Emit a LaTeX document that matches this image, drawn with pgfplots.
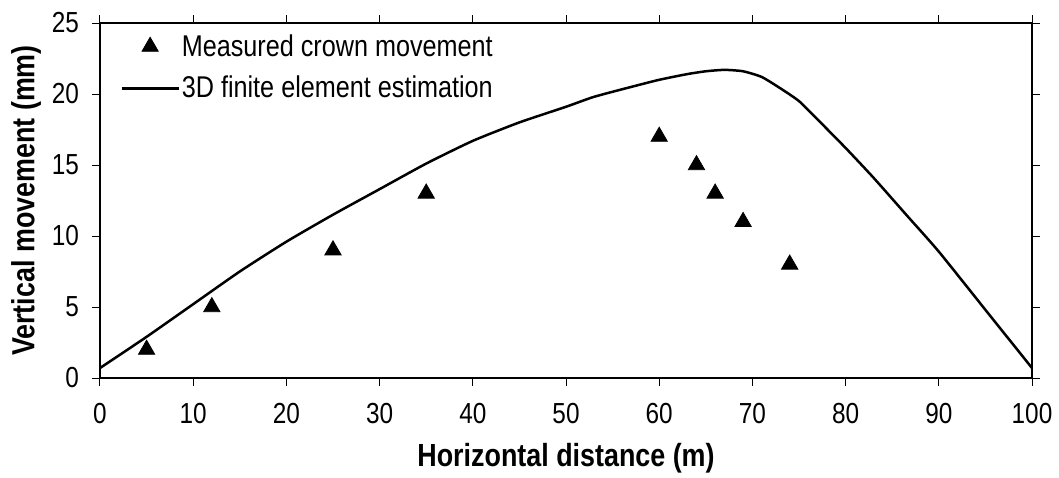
\documentclass[border=0pt]{standalone}
\usepackage{fontspec}
\setmainfont{Liberation Sans}[FakeStretch=0.84]
\usepackage{pgfplots}
\pgfplotsset{compat=1.18}
\pgfplotsset{
    marklegend/.style={legend image code/.code={\draw[##1] plot[mark=triangle*] coordinates {(0.5cm,0cm)};}},
    linelegend/.style={legend image code/.code={\draw[##1] (0cm,0cm) -- (1cm,0cm);}},
}

\begin{document}
\begin{tikzpicture}
\begin{axis}[
    scale only axis,
    width=466pt,
    height=177.5pt,
    xmin=0, xmax=100,
    ymin=0, ymax=25,
    xtick={0,10,...,100},
    ytick={0,5,...,25},
    tick align=outside,
    major tick length=4pt,
    tick style={black, line width=0.5pt},
    axis line style={line width=0.6pt},
    tick label style={font=\fontsize{14.5}{16}\selectfont},
    /pgf/number format/assume math mode=true,
    xticklabel style={yshift=-5pt},
    yticklabel style={xshift=-3pt},
    xlabel={\textbf{Horizontal distance (m)}},
    ylabel={\textbf{Vertical movement (mm)}},
    label style={font=\fontsize{16}{18}\selectfont},
    xlabel style={yshift=-3pt},
    ylabel style={yshift=-1.5pt},
    legend cell align=left,
    legend style={draw=none, fill=none, inner sep=0pt, at={(0.0215,0.975)}, anchor=north west,
        font=\fontsize{15}{17}\selectfont, row sep=6.5pt,
        nodes={inner sep=1pt}},
    clip=false,
]
\coordinate (bl) at (rel axis cs:0,0);
\addplot[only marks, mark=triangle*, mark size=4.7pt, black, marklegend]
    coordinates {
    (5,2) (12,5) (25,9) (35,13) (60,17) (64,15) (66,13) (69,11) (74,8)
    };
\addlegendentry{Measured crown movement}
\addplot[black, line width=1.25pt, mark=none, smooth, tension=0.35, linelegend]
    coordinates {
    (0,0.7) (5,2.9) (10,5.2) (15,7.5) (20,9.6) (25,11.5) (30,13.3)
    (35,15.1) (40,16.7) (45,18.0) (50,19.1) (53,19.8) (57,20.5)
    (60,21.0) (63,21.4) (65,21.6) (67,21.7) (69,21.6) (71,21.2)
    (73,20.4) (75,19.5) (77,18.2) (80,16.2) (83,14.1) (86.5,11.5)
    (90,8.9) (95,4.8) (100,0.7)
    };
\addlegendentry{3D finite element estimation}
\end{axis}
\pgfresetboundingbox
\path[use as bounding box] ([shift={(-50pt,-49.5pt)}]bl) rectangle ([shift={(479.5pt,189pt)}]bl);
\end{tikzpicture}
\end{document}
